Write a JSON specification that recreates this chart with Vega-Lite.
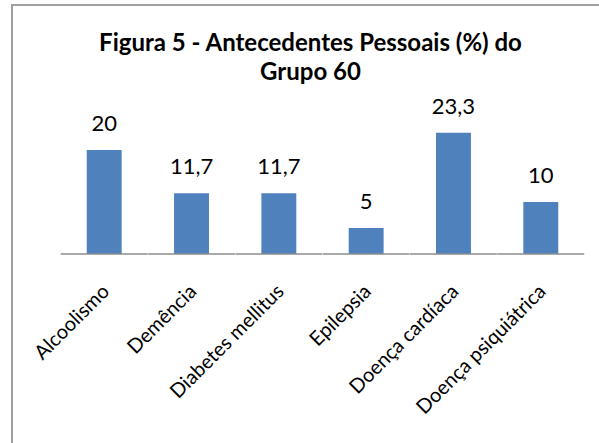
{
  "$schema": "https://vega.github.io/schema/vega-lite/v6.json",
  "autosize": {"type": "none"},
  "padding": {"left": 12, "top": 5, "right": 0, "bottom": 0},
  "width": 621,
  "height": 460,
  "background": "white",
  "config": {
    "font": "Lato",
    "view": {"stroke": "#A0A0A0", "strokeWidth": 2},
    "locale": {"number": {"decimal": ",", "thousands": ".", "grouping": [3], "currency": ["", " €"]}}
  },
  "title": {
    "text": ["Figura 5 - Antecedentes Pessoais (%) do", "Grupo 60"],
    "anchor": "middle",
    "baseline": "top",
    "offset": -80,
    "dx": -12,
    "fontSize": 24,
    "fontWeight": "bold",
    "lineHeight": 29,
    "color": "#000000"
  },
  "data": {
    "values": [
      {"categoria": "Alcoolismo", "valor": 20},
      {"categoria": "Demência", "valor": 11.7},
      {"categoria": "Diabetes mellitus", "valor": 11.7},
      {"categoria": "Epilepsia", "valor": 5},
      {"categoria": "Doença cardíaca", "valor": 23.3},
      {"categoria": "Doença psiquiátrica", "valor": 10}
    ]
  },
  "encoding": {
    "x": {
      "field": "categoria",
      "type": "nominal",
      "sort": null,
      "scale": {"paddingInner": 0.6, "paddingOuter": 0.856, "align": 0.5, "round": false},
      "axis": {
        "title": null,
        "domain": false,
        "ticks": false,
        "tickSize": 0,
        "offset": -211,
        "labelAngle": -45,
        "labelAlign": "right",
        "labelBaseline": "middle",
        "labelPadding": 34,
        "labelOffset": 2,
        "labelFontSize": 20,
        "labelColor": "#000000",
        "labelFont": "Lato"
      }
    }
  },
  "layer": [
    {
      "mark": {"type": "bar", "color": "#4F81BD"},
      "encoding": {
        "y": {
          "field": "valor",
          "type": "quantitative",
          "scale": {"domain": [-40.58, 47.88], "nice": false, "zero": false},
          "axis": null
        }
      }
    },
    {
      "mark": {"type": "rule", "color": "#8C8C8C", "strokeWidth": 1.5},
      "encoding": {
        "x": {"field": "categoria", "type": "nominal", "sort": null, "bandPosition": -0.743},
        "x2": {"field": "categoria", "bandPosition": 1.743},
        "y": {"datum": 0, "type": "quantitative"}
      }
    },
    {
      "mark": {"type": "text", "baseline": "alphabetic", "dy": -19, "fontSize": 22, "color": "#000000"},
      "encoding": {
        "y": {"field": "valor", "type": "quantitative"},
        "text": {"field": "valor", "type": "quantitative", "format": ".1~f"}
      }
    }
  ]
}
